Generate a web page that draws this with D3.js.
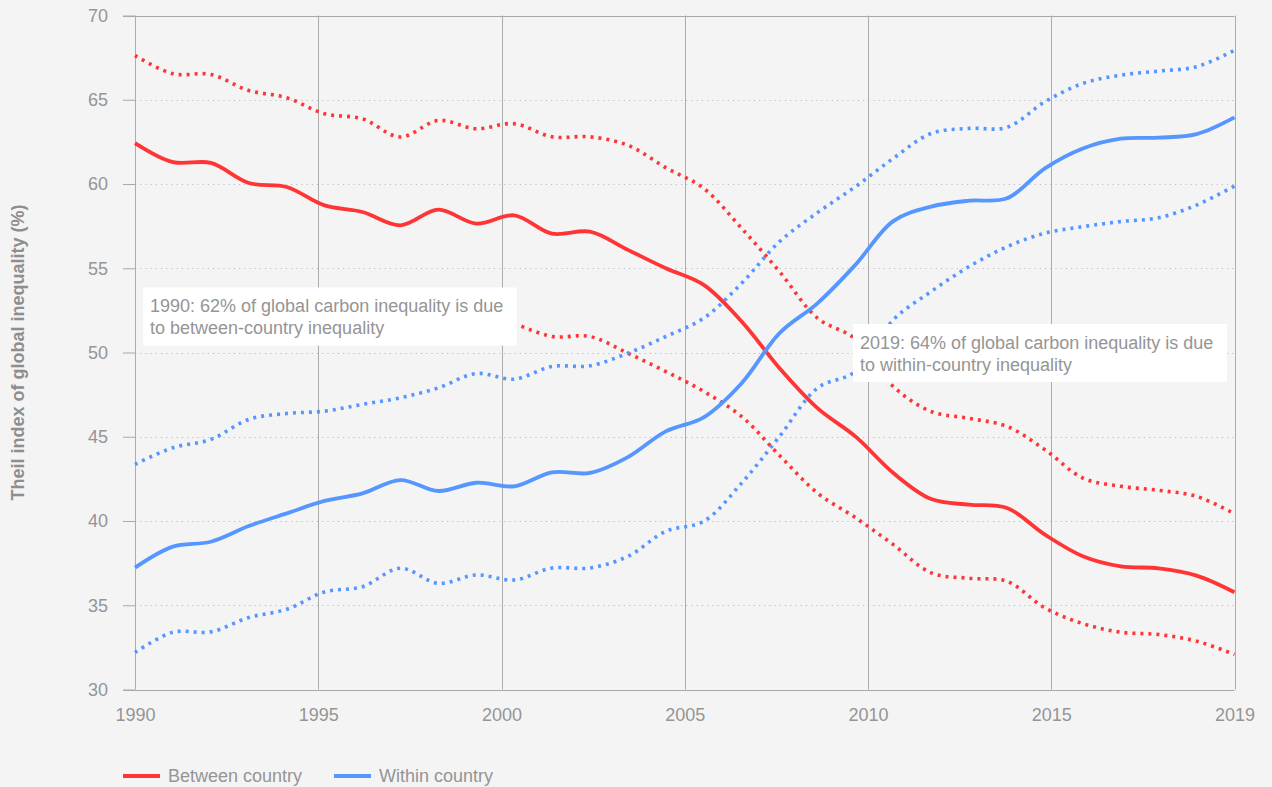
<!DOCTYPE html>
<html>
<head>
<meta charset="utf-8">
<script src="https://cdn.jsdelivr.net/npm/d3@7"></script>
<style>
  html, body { margin: 0; padding: 0; background: #f4f4f4; }
  svg { display: block; }
  text { font-family: "Liberation Sans", Arial, Helvetica, sans-serif; }
</style>
</head>
<body>
<svg id="chart" width="1272" height="787"></svg>
<script>
// ---------------- DATA ----------------
const years = [1990,1991,1992,1993,1994,1995,1996,1997,1998,1999,
               2000,2001,2002,2003,2004,2005,2006,2007,2008,2009,
               2010,2011,2012,2013,2014,2015,2016,2017,2018,2019];

const betweenCentral = [62.43,61.30,61.25,60.06,59.82,58.73,58.34,57.55,58.48,57.65,
                        58.14,57.05,57.17,56.09,55.00,54.01,51.84,49.07,46.70,45.02,
                        42.85,41.30,40.97,40.77,39.19,37.91,37.31,37.19,36.76,35.77];
const betweenUpper   = [67.63,66.54,66.50,65.55,65.12,64.17,63.87,62.79,63.77,63.28,
                        63.58,62.80,62.80,62.30,60.97,59.74,57.37,54.80,52.04,50.80,
                        47.98,46.50,46.09,45.61,44.23,42.55,42.06,41.82,41.46,40.43];
const betweenLower   = [null,null,null,null,null,null,null,null,null,null,
                        51.74,50.95,50.95,49.96,48.87,47.69,46.20,43.89,41.66,40.20,
                        38.60,36.92,36.60,36.42,34.84,33.91,33.40,33.26,32.87,32.08];

const withinCentral  = [37.23,38.48,38.77,39.70,40.45,41.19,41.64,42.43,41.78,42.27,
                        42.06,42.89,42.85,43.79,45.32,46.15,48.18,51.15,52.92,55.20,
                        57.80,58.66,59.01,59.15,60.93,62.11,62.69,62.75,62.96,63.95];
const withinUpper    = [43.36,44.35,44.84,46.03,46.38,46.52,46.92,47.31,47.90,48.75,
                        48.42,49.17,49.21,49.96,50.95,52.04,54.11,56.58,58.30,59.84,
                        61.52,63.00,63.30,63.36,64.88,65.97,66.46,66.70,66.96,67.94];
const withinLower    = [32.19,33.40,33.42,34.27,34.76,35.79,36.10,37.20,36.30,36.80,
                        36.50,37.21,37.21,37.90,39.39,39.98,42.25,45.02,47.89,48.87,
                        51.94,53.62,55.10,56.28,57.08,57.47,57.77,58.00,58.75,59.88];

const yTicks = [30,35,40,45,50,55,60,65,70];
const xTickSlots = [0,5,10,15,20,25,30];
const xTickLabels = ["1990","1995","2000","2005","2010","2015","2019"];

const seriesNames = ["Between country","Within country"];
const yTitle = "Theil index of global inequality (%)";
const note1 = ["1990: 62% of global carbon inequality is due", "to between-country inequality"];
const note2 = ["2019: 64% of global carbon inequality is due", "to within-country inequality"];

// ---------------- LAYOUT ----------------
const RED = "#ff3535", BLUE = "#5596ff", TXT = "#959595", TITLE = "#8e8e8e";
const L = 135, R = 1234.5, T = 15.5, B = 689.5;

const svg = d3.select("#chart");
svg.append("rect").attr("width",1272).attr("height",787).attr("fill","#f4f4f4");

const y = d3.scaleLinear().domain([30,70]).range([B,T]);
const xAxisScale = d3.scaleLinear().domain([0,30]).range([L,R]);
const x = d3.scaleLinear().domain([years[0], years[years.length-1]]).range([L,R]);

// horizontal gridlines (dotted) + solid top/bottom
const g = svg.append("g");
g.selectAll("line.hg").data(yTicks).join("line")
  .attr("x1", d => (d===30||d===70) ? L-12 : L).attr("x2", R)
  .attr("y1", d => Math.round(y(d))+0.5).attr("y2", d => Math.round(y(d))+0.5)
  .attr("stroke", d => (d===30||d===70) ? "#a9a9a9" : "#bdbdbd")
  .attr("stroke-width", 1)
  .attr("stroke-dasharray", d => (d===30||d===70) ? null : "1.2 4");

// vertical gridlines (solid)
g.selectAll("line.vg").data(xTickSlots).join("line")
  .attr("x1", d => Math.round(xAxisScale(d))+0.5).attr("x2", d => Math.round(xAxisScale(d))+0.5)
  .attr("y1", T).attr("y2", B)
  .attr("stroke", "#acacac").attr("stroke-width", 1);

// y axis
const yAxis = svg.append("g").attr("transform", `translate(${L},0)`)
  .call(d3.axisLeft(y).tickValues(yTicks).tickSize(12).tickPadding(15).tickFormat(d3.format("d")));
yAxis.select(".domain").remove();
yAxis.selectAll(".tick line").attr("stroke","#a9a9a9");
yAxis.selectAll(".tick text").attr("fill", TXT).attr("font-size", 18)
  .style("font-family", '"Liberation Sans", Arial, sans-serif');

// x axis
const xAxis = svg.append("g").attr("transform", `translate(0,${B})`)
  .call(d3.axisBottom(xAxisScale).tickValues(xTickSlots).tickSize(0).tickPadding(19)
        .tickFormat((d,i) => xTickLabels[i]));
xAxis.select(".domain").remove();
xAxis.selectAll(".tick text").attr("fill", TXT).attr("font-size", 18)
  .style("font-family", '"Liberation Sans", Arial, sans-serif');

// y title
svg.append("text")
  .attr("transform", `translate(24,${(T+B)/2}) rotate(-90)`)
  .attr("text-anchor","middle").attr("font-size",18).attr("font-weight","bold")
  .attr("fill", TITLE).text(yTitle);

// lines
const line = d3.line()
  .defined(d => d[1] !== null)
  .x(d => x(d[0])).y(d => y(d[1]))
  .curve(d3.curveCatmullRom.alpha(0.5));

function drawSeries(vals, color, dotted) {
  svg.append("path")
    .datum(years.map((yr,i) => [yr, vals[i]]))
    .attr("d", line)
    .attr("fill","none")
    .attr("stroke", color)
    .attr("stroke-width", dotted ? 3.6 : 3.8)
    .attr("stroke-dasharray", dotted ? "3 5" : null)
    .attr("stroke-linejoin","round");
}
drawSeries(betweenUpper, RED, true);
drawSeries(betweenLower, RED, true);
drawSeries(withinUpper, BLUE, true);
drawSeries(withinLower, BLUE, true);
drawSeries(betweenCentral, RED, false);
drawSeries(withinCentral, BLUE, false);

// annotation boxes
function note(lines, bx, by) {
  const grp = svg.append("g");
  grp.append("rect").attr("x", bx).attr("y", by).attr("width", 374).attr("height", 58).attr("fill","#ffffff");
  lines.forEach((t,i) => {
    grp.append("text").attr("x", bx+7).attr("y", by+24.5 + i*22)
      .attr("font-size", 18).attr("fill", TXT).text(t);
  });
}
note(note1, 143, 287.5);
note(note2, 853, 324);

// legend
const legend = svg.append("g");
const legendItems = [
  {name: seriesNames[0], color: RED, x: 123},
  {name: seriesNames[1], color: BLUE, x: 334}
];
legendItems.forEach(it => {
  legend.append("line").attr("x1", it.x).attr("x2", it.x+37).attr("y1", 776).attr("y2", 776)
    .attr("stroke", it.color).attr("stroke-width", 4);
  legend.append("text").attr("x", it.x+45).attr("y", 782).attr("font-size", 18)
    .attr("fill", TXT).text(it.name);
});
</script>
</body>
</html>
